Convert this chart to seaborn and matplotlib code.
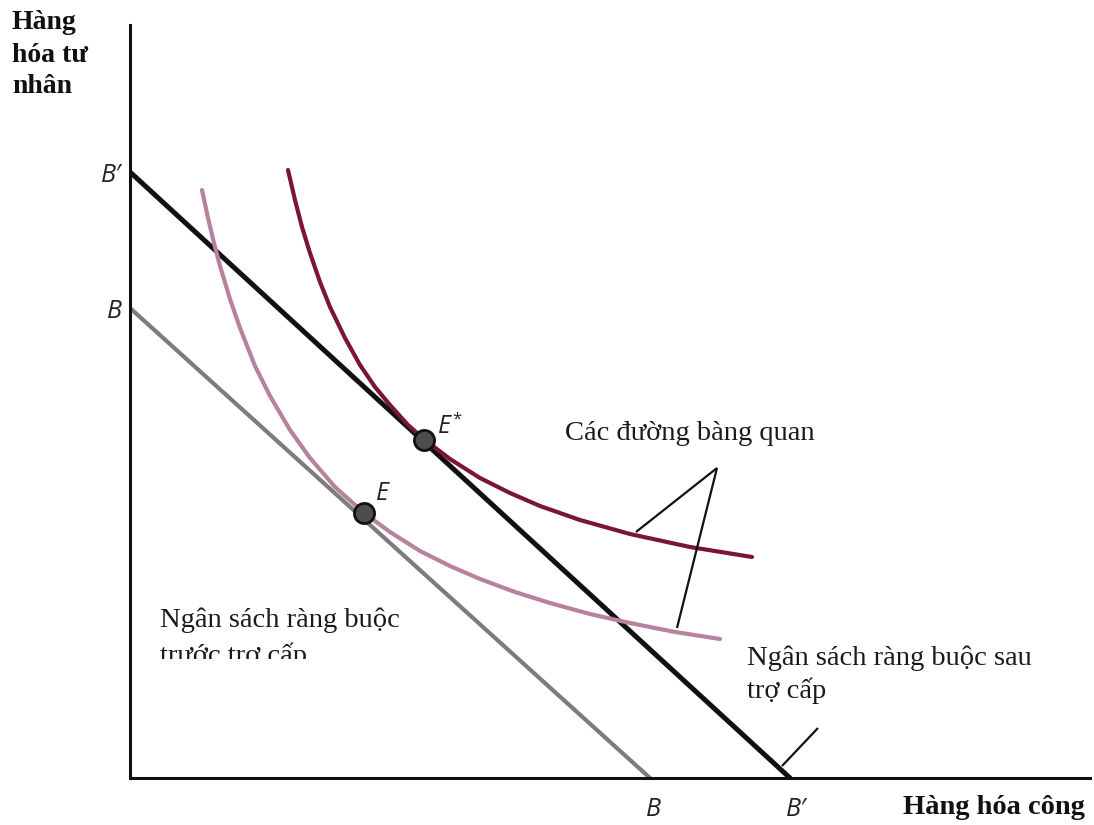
import matplotlib
matplotlib.use("Agg")
import matplotlib.pyplot as plt
import matplotlib.transforms as mtransforms
import seaborn as sns
import pandas as pd
from matplotlib.patches import Rectangle

# ---- data (diagram units, origin at the axes corner) ----
budget_before_x = [0, 520]
budget_before_y = [470, 0]
budget_after_x = [0, 660]
budget_after_y = [606, 0]

ic_high_x = [158, 165, 172, 180, 190, 200, 215, 230, 245, 260, 278, 295,
             320, 350, 380, 410, 450, 500, 560, 622]
ic_high_y = [608, 578, 551, 525, 496, 471, 440, 413, 391, 373, 353, 338,
             319, 300, 285, 272, 258, 244, 231, 221]

ic_low_x = [72, 78, 84, 90, 100, 110, 125, 140, 160, 180, 205, 234, 260,
            290, 320, 350, 385, 420, 460, 500, 545, 590]
ic_low_y = [588, 560, 535, 512, 479, 450, 412, 382, 348, 320, 291, 265, 246,
            227, 212, 199, 186, 175, 164, 155, 146, 139]

eq_x = [234, 294]
eq_y = [265, 338]

xtick_vals = [520, 660]
xtick_labels = ["B", "B′"]
ytick_vals = [470, 606]
ytick_labels = ["B", "B′"]

# ---- style ----
sns.set_style("white")
serif = ["Liberation Serif", "DejaVu Serif"]
sans_it = ["Open Sans", "DejaVu Sans"]

W, H = 1094, 825
fig = plt.figure(figsize=(W / 100, H / 100), dpi=100)
ax = fig.add_axes([130 / W, 47 / H, 960 / W, 753 / H])
ax.set_xlim(0, 960)
ax.set_ylim(0, 753)

black = "#111111"
gray = "#7c7c7c"
maroon = "#7a1538"
pink = "#b7829d"

sns.lineplot(x=budget_before_x, y=budget_before_y, ax=ax, color=gray,
             linewidth=3.0, estimator=None, sort=False)
sns.lineplot(x=budget_after_x, y=budget_after_y, ax=ax, color=black,
             linewidth=3.6, estimator=None, sort=False)
sns.lineplot(x=ic_low_x, y=ic_low_y, ax=ax, color=pink,
             linewidth=3.0, estimator=None, sort=False)
sns.lineplot(x=ic_high_x, y=ic_high_y, ax=ax, color=maroon,
             linewidth=3.0, estimator=None, sort=False)

sns.scatterplot(x=eq_x, y=eq_y, ax=ax, s=210, color="#4d4d4d",
                edgecolor="#111111", linewidth=2.0, zorder=5)

# annotation pointer lines
ax.plot([587, 506], [310, 246], color=black, lw=1.6, solid_capstyle="butt")
ax.plot([587, 547], [310, 150], color=black, lw=1.6, solid_capstyle="butt")
ax.plot([688, 652], [50, 12], color=black, lw=1.6, solid_capstyle="butt")

# axes styling
for s in ["top", "right"]:
    ax.spines[s].set_visible(False)
for s in ["left", "bottom"]:
    ax.spines[s].set_linewidth(2.2)
    ax.spines[s].set_color(black)
    ax.spines[s].set_zorder(6)

ax.set_xticks(xtick_vals)
ax.set_xticklabels(xtick_labels)
ax.set_yticks(ytick_vals)
ax.set_yticklabels(ytick_labels)
ax.tick_params(axis="x", length=0, pad=14)
ax.tick_params(axis="y", length=0, pad=6)
for lab in ax.get_xticklabels() + ax.get_yticklabels():
    lab.set_fontfamily(sans_it)
    lab.set_fontstyle("italic")
    lab.set_fontsize(18)
    lab.set_color("#222222")
xl = ax.get_xticklabels()
off = mtransforms.ScaledTranslation(6 / 100, 0, fig.dpi_scale_trans)
xl[1].set_transform(xl[1].get_transform() + off)
off2 = mtransforms.ScaledTranslation(3 / 100, 0, fig.dpi_scale_trans)
xl[0].set_transform(xl[0].get_transform() + off2)

# labels
ax.text(308, 345, "E", fontfamily=sans_it, fontstyle="italic", fontsize=18,
        color="#222222", ha="left", va="baseline")
ax.text(322, 366, "*", fontfamily=sans_it, fontsize=12,
        color="#222222", ha="left", va="top")
ax.text(246, 278, "E", fontfamily=sans_it, fontstyle="italic", fontsize=18,
        color="#222222", ha="left", va="baseline")

fs = 20.5
ax.text(435, 338, "Các đường bàng quan", fontfamily=serif, fontsize=fs,
        color="#1a1a1a", ha="left", va="baseline")
ax.text(30, 151, "Ngân sách ràng buộc", fontfamily=serif, fontsize=fs,
        color="#1a1a1a", ha="left", va="baseline")
t2 = ax.text(30, 115, "trước trợ cấp", fontfamily=serif, fontsize=fs,
             color="#1a1a1a", ha="left", va="baseline")
clip = Rectangle((0, 119), 960, 700, transform=ax.transData, visible=False)
ax.add_patch(clip)
t2.set_clip_on(True)
t2.set_clip_path(clip)
ax.text(617, 113, "Ngân sách ràng buộc sau", fontfamily=serif, fontsize=fs,
        color="#1a1a1a", ha="left", va="baseline")
ax.text(617, 80, "trợ cấp", fontfamily=serif, fontsize=fs,
        color="#1a1a1a", ha="left", va="baseline")

# axis titles (outside axes)
for txt, yb in [("Hàng", 29), ("hóa tư", 62), ("nhân", 93)]:
    fig.text(12 / W, 1 - yb / H, txt, fontfamily=serif, fontweight="bold",
             fontsize=20, color="#111111", ha="left", va="baseline")
fig.text(903 / W, 1 - 814 / H, "Hàng hóa công", fontfamily=serif,
         fontweight="bold", fontsize=20.5, color="#111111", ha="left",
         va="baseline")

fig.savefig("out.png", dpi=100)
